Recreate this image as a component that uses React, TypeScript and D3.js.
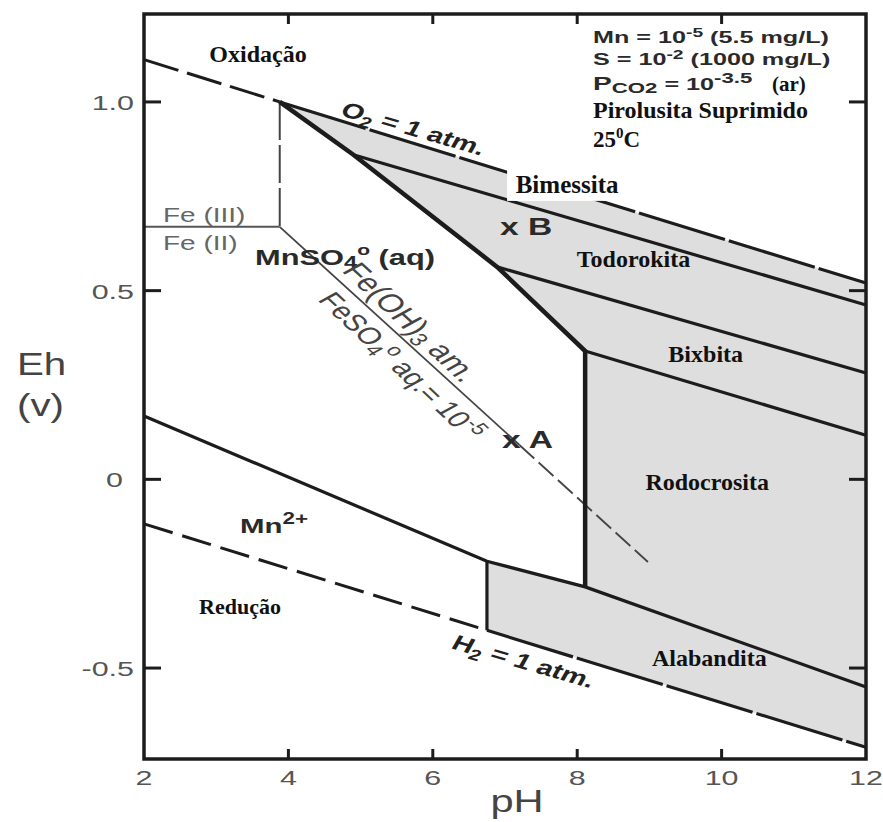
import React from 'react';
import * as d3 from 'd3';

type P = [number, number];

// Axes
const xDomain: [number, number] = [2, 12];
const yDomain: [number, number] = [-0.741, 1.233];
const xTicks = [2, 4, 6, 8, 10, 12];
const yTicks = [1.0, 0.5, 0, -0.5];
const yTickLabels = ['1.0', '0.5', '0', '-0.5'];

// Water stability limits (pH, Eh)
const o2Dashed: P[] = [[2, 1.112], [3.88, 1.0]];
const o2Solid: P[] = [[3.88, 1.0], [12, 0.52]];
const h2Dashed: P[] = [[2, -0.118], [6.75, -0.4]];
const h2Solid: P[] = [[6.75, -0.4], [12, -0.71]];

// Mn field boundaries
const oxideBoundary: P[] = [[3.88, 1.0], [4.9, 0.86], [6.89, 0.563], [8.11, 0.34], [8.11, -0.285]];
const birnessitaBase: P[] = [[4.9, 0.86], [12, 0.462]];
const todorokitaBase: P[] = [[6.89, 0.563], [12, 0.282]];
const bixbitaBase: P[] = [[8.11, 0.34], [12, 0.117]];
const mn2Boundary: P[] = [[2, 0.168], [6.75, -0.217], [8.11, -0.285], [12, -0.55]];
const alabanditaEdge: P[] = [[6.75, -0.217], [6.75, -0.4]];
const solidRegion: P[] = [
  [3.88, 1.0], [12, 0.52], [12, -0.71], [6.75, -0.4], [6.75, -0.217],
  [8.11, -0.285], [8.11, 0.34], [6.89, 0.563], [4.9, 0.86],
];

// Fe boundaries
const feHorizontal: P[] = [[2, 0.669], [3.88, 0.669]];
const feVertical: P[] = [[3.88, 1.0], [3.88, 0.669]];
const feDiagSolid: P[] = [[3.88, 0.669], [7.2, 0.091]];
const feDiagDashed: P[] = [[7.2, 0.091], [8.98, -0.219]];

// Mineral field names
const mineralNames = ['Bimessita', 'Todorokita', 'Bixbita', 'Rodocrosita', 'Alabandita'];
const mineralPH = [7.86, 8.78, 9.78, 9.8, 9.83];
const mineralEh = [0.759, 0.563, 0.311, -0.028, -0.495];

const SANS = "'Liberation Sans', Arial, Helvetica, sans-serif";
const SERIF = "'Liberation Serif', 'Times New Roman', serif";
const INK = '#1c1c1c';

function ST({ x, y, sx = 1.4, angle = 0, anchor = 'start', size = 20, weight = 700, fill = '#222', family = SANS, children }: any) {
  // screen angle -> pre-stretch angle
  const a = angle ? (Math.atan(Math.tan((angle * Math.PI) / 180) * sx) * 180) / Math.PI : 0;
  return (
    <text
      transform={`translate(${x},${y}) scale(${sx},1)${a ? ` rotate(${a})` : ''}`}
      textAnchor={anchor}
      fontSize={size}
      fontWeight={weight}
      fill={fill}
      fontFamily={family}
    >
      {children}
    </text>
  );
}

export default function App() {
  const x = d3.scaleLinear().domain(xDomain).range([144, 866]);
  const y = d3.scaleLinear().domain(yDomain).range([759, 14]);
  const line = d3.line<P>().x((d) => x(d[0])).y((d) => y(d[1]));
  const [x0, x1] = x.range();
  const [yb, yt] = y.range();

  return (
    <svg width={883} height={822} style={{ position: 'absolute', left: 0, top: 0 }}>
      <rect width={883} height={822} fill="#fff" />
      <path d={line(solidRegion) + 'Z'} fill="#dedede" />

      {/* Fe lines */}
      <path d={line(feHorizontal)!} stroke="#555" strokeWidth={2} fill="none" />
      <path d={line(feVertical)!} stroke="#444" strokeWidth={2} fill="none" strokeDasharray="38 5" />
      <path d={line(feDiagSolid)!} stroke="#444" strokeWidth={1.8} fill="none" />
      <path d={line(feDiagDashed)!} stroke="#444" strokeWidth={1.8} fill="none" strokeDasharray="20 6" />

      {/* Water limits */}
      <path d={line(o2Dashed)!} stroke={INK} strokeWidth={3} fill="none" strokeDasharray="36 9" />
      <path d={line(o2Solid)!} stroke={INK} strokeWidth={3.2} fill="none" strokeDasharray="90 4" />
      <path d={line(h2Dashed)!} stroke={INK} strokeWidth={3} fill="none" strokeDasharray="30 10" />
      <path d={line(h2Solid)!} stroke={INK} strokeWidth={3.2} fill="none" strokeDasharray="90 4" />

      {/* Mn boundaries */}
      <path d={line(birnessitaBase)!} stroke={INK} strokeWidth={3.2} fill="none" />
      <path d={line(todorokitaBase)!} stroke={INK} strokeWidth={3.2} fill="none" />
      <path d={line(bixbitaBase)!} stroke={INK} strokeWidth={3.2} fill="none" />
      <path d={line(mn2Boundary)!} stroke={INK} strokeWidth={3.2} fill="none" />
      <path d={line(alabanditaEdge)!} stroke={INK} strokeWidth={3.2} fill="none" />
      <path d={line(oxideBoundary)!} stroke={INK} strokeWidth={4.5} fill="none" strokeLinejoin="miter" />

      {/* Frame */}
      <rect x={x0} y={yt} width={x1 - x0} height={yb - yt} fill="none" stroke={INK} strokeWidth={3.5} />

      {/* Ticks */}
      {xTicks.slice(1, -1).map((t) => (
        <g key={'xt' + t}>
          <line x1={x(t)} x2={x(t)} y1={yb} y2={yb - 10} stroke={INK} strokeWidth={3} />
          <line x1={x(t)} x2={x(t)} y1={yt} y2={yt + 10} stroke={INK} strokeWidth={3} />
        </g>
      ))}
      {yTicks.map((t) => (
        <g key={'yt' + t}>
          <line x1={x0} x2={x0 + 17} y1={y(t)} y2={y(t)} stroke={INK} strokeWidth={3} />
          <line x1={x1} x2={x1 - 17} y1={y(t)} y2={y(t)} stroke={INK} strokeWidth={3} />
        </g>
      ))}

      {/* Tick labels */}
      {xTicks.map((t) => (
        <ST key={'xl' + t} x={x(t)} y={785} sx={1.45} anchor="middle" size={21} weight={400} fill="#555">
          {String(t)}
        </ST>
      ))}
      {yTicks.map((t, i) => (
        <ST key={'yl' + t} x={yTickLabels[i] === '0' ? 123 : 134} y={y(t) + 8} sx={1.45} anchor="end" size={21} weight={400} fill="#555">
          {yTickLabels[i]}
        </ST>
      ))}

      {/* Axis titles */}
      <ST x={17} y={375} sx={1.3} size={31} weight={400} fill="#444">Eh</ST>
      <ST x={17} y={416} sx={1.3} size={31} weight={400} fill="#444">(v)</ST>
      <ST x={517} y={812} sx={1.3} anchor="middle" size={32} weight={400} fill="#444">pH</ST>

      {/* Region labels (serif) */}
      <text x={258} y={62} textAnchor="middle" fontFamily={SERIF} fontWeight={700} fontSize={24} fill="#111">Oxidação</text>
      <text x={240} y={614} textAnchor="middle" fontFamily={SERIF} fontWeight={700} fontSize={22} fill="#111">Redução</text>

      {mineralNames.map((n, i) => (
        <g key={n}>
          {i === 0 && <rect x={x(mineralPH[i]) - 60} y={y(mineralEh[i]) - 24} width={122} height={32} fill="#fff" />}
          <text
            x={x(mineralPH[i])}
            y={y(mineralEh[i])}
            textAnchor="middle"
            fontFamily={SERIF}
            fontWeight={700}
            fontSize={i === 0 ? 25 : 24}
            fill="#111"
          >
            {n}
          </text>
        </g>
      ))}

      {/* Sans annotations */}
      <ST x={339} y={115} angle={16} size={21} fill="#222">
        O<tspan fontSize={15} dy={5}>2</tspan>
        <tspan dy={-5}> = 1 atm.</tspan>
      </ST>
      <ST x={450} y={648} angle={16} size={21} fill="#222">
        H<tspan fontSize={15} dy={5}>2</tspan>
        <tspan dy={-5}> = 1 atm.</tspan>
      </ST>

      <ST x={163} y={222} size={20} weight={400} fill="#666">Fe (III)</ST>
      <ST x={163} y={250} size={20} weight={400} fill="#666">Fe (II)</ST>

      <ST x={255} y={265} size={22} fill="#2a2a2a">
        MnSO<tspan fontSize={17} dy={3}>4</tspan>
        <tspan fontSize={15} dy={-13}>o</tspan>
        <tspan dy={10}> (aq)</tspan>
      </ST>

      <ST x={341} y={271} angle={43} size={25} weight={400} fill="#444">
        Fe(OH)<tspan fontSize={18} dy={4}>3</tspan>
        <tspan dy={-4}> am.</tspan>
      </ST>
      <ST x={317} y={300} angle={43} size={23} weight={400} fill="#444">
        FeSO<tspan fontSize={17} dy={4}>4</tspan>
        <tspan fontSize={17} dy={-12}>o</tspan>
        <tspan dy={8}> aq.= 10</tspan>
        <tspan fontSize={17} dy={-8}>-5</tspan>
      </ST>

      <ST x={500} y={235} size={24} fill="#2a2a2a">x B</ST>
      <ST x={502} y={448} size={24} fill="#2a2a2a">x A</ST>

      <ST x={240} y={533} size={21} fill="#2a2a2a">
        Mn<tspan fontSize={16} dy={-9}>2+</tspan>
      </ST>

      {/* Conditions block */}
      <ST x={593} y={43} sx={1.48} size={17} fill="#2a2a2a">
        Mn = 10<tspan fontSize={13} dy={-6}>-5</tspan>
        <tspan dy={6}> (5.5 mg/L)</tspan>
      </ST>
      <ST x={593} y={65} sx={1.48} size={17} fill="#2a2a2a">
        S = 10<tspan fontSize={13} dy={-6}>-2</tspan>
        <tspan dy={6}> (1000 mg/L)</tspan>
      </ST>
      <ST x={593} y={90} sx={1.48} size={17} fill="#2a2a2a">
        <tspan fontSize={19}>P</tspan>
        <tspan fontSize={15} dy={3}>CO2</tspan>
        <tspan dy={-3}> = 10</tspan>
        <tspan fontSize={15} dy={-7}>-3.5</tspan>
      </ST>
      <text x={772} y={91} fontFamily={SERIF} fontWeight={700} fontSize={21} fill="#111">(ar)</text>
      <text x={593} y={118} fontFamily={SERIF} fontWeight={700} fontSize={24} fill="#111">Pirolusita Suprimido</text>
      <text x={593} y={147} fontFamily={SERIF} fontWeight={700} fontSize={23} fill="#111">
        25<tspan fontSize={15} dy={-9}>0</tspan>
        <tspan dy={9}>C</tspan>
      </text>
    </svg>
  );
}
